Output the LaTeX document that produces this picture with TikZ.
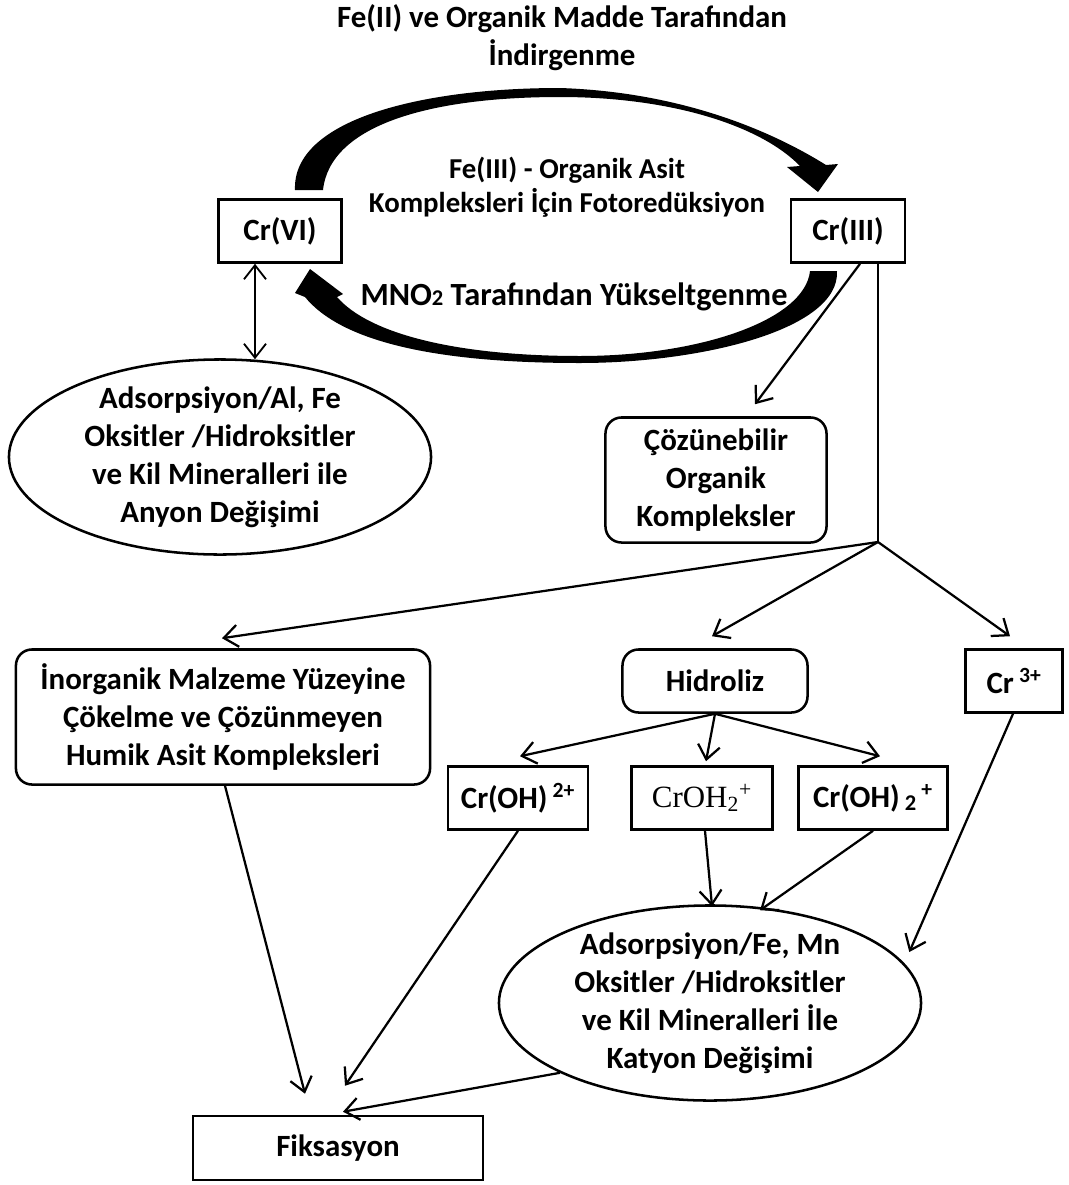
\documentclass[tikz,border=0pt]{standalone}
\usepackage{fontspec}
\setmainfont{Carlito}
\newfontfamily\timesfont{Liberation Serif}
\usetikzlibrary{shapes.geometric, arrows.meta, calc}

\begin{document}
\begin{tikzpicture}[x=0.025cm, y=-0.025cm,
        every node/.style={font=\bfseries\fontsize{22}{27}\selectfont},
        >={Straight Barb[length=3.5mm, width=5.5mm]},
        box/.style={draw, line width=1.8pt, align=center, minimum height=1.575cm},
        rbox/.style={box, rounded corners=0.4cm},
        oval/.style={draw, ellipse, line width=1.8pt, minimum width=10.55cm, minimum height=4.875cm},
        link/.style={->, line width=1.6pt}]
        \useasboundingbox (0, 0) rectangle (1068, 1185);

        \node[align=center] (title) at (562, 38) {Fe(II) ve Organik Madde Tarafından\\İndirgenme};
        \node[align=center, font=\bfseries\fontsize{20.5}{24}\selectfont] (photo) at (567, 187) {Fe(III) - Organik Asit\\Kompleksleri İçin Fotoredüksiyon};
        \node[font=\bfseries\fontsize{23}{27}\selectfont] (mno) at (574, 297) {MNO{\fontsize{16}{16}\selectfont 2} Tarafından Yükseltgenme};

        \node[box, minimum width=3.075cm] (crVI) at (280, 231) {Cr(VI)};
        \node[box, minimum width=2.85cm] (crIII) at (848, 231) {Cr(III)};

        \fill (295,190) .. controls (292,120) and (420,88) .. (560,88)
            .. controls (680,92) and (770,130) .. (826,165)
            -- (838,164) -- (818,192) -- (787,167) -- (800,166)
            .. controls (760,125) and (670,97) .. (560,97)
            .. controls (430,97) and (330,125) .. (323,190) -- cycle;
        \fill (837,271) .. controls (840,330) and (700,363) .. (580,363)
            .. controls (430,363) and (340,340) .. (305,297)
            -- (295,293) -- (310,269) -- (343,294) -- (337,297)
            .. controls (370,335) and (460,356) .. (580,356)
            .. controls (700,356) and (805,320) .. (810,271) -- cycle;

        \node[oval] (adsleft) at (220, 457) {};
        \node[align=center] (adslefttext) at (adsleft) {Adsorpsiyon/Al, Fe\\Oksitler /Hidroksitler\\ve Kil Mineralleri ile\\Anyon Değişimi};
        \node[rbox, minimum width=5.525cm, minimum height=3.125cm] (cozun) at (716, 480) {Çözünebilir\\Organik\\Kompleksler};
        \coordinate (branch) at (878, 542);

        \node[rbox, minimum width=10.35cm, minimum height=3.375cm] (inorg) at (223, 717) {İnorganik Malzeme Yüzeyine\\Çökelme ve Çözünmeyen\\Humik Asit Kompleksleri};
        \node[rbox, minimum width=4.625cm] (hidroliz) at (715, 681) {Hidroliz};
        \node[box, minimum width=2.425cm] (cr3) at (1014, 681) {Cr\,\textsuperscript{3+}};

        \node[box, minimum width=3.5cm] (crOHa) at (518, 798) {Cr(OH)\,\textsuperscript{2+}};
        \node[box, minimum width=3.525cm, font=\timesfont\fontsize{22}{27}\selectfont] (crOHb) at (702, 798) {CrOH\textsubscript{2}\textsuperscript{+}};
        \node[box, minimum width=3.725cm] (crOHc) at (873, 798) {Cr(OH)\,\raisebox{-0.2ex}{\fontsize{16}{16}\selectfont 2}\,\textsuperscript{+}};

        \node[oval] (adsright) at (710, 1003) {};
        \node[align=center] (adsrighttext) at (adsright) {Adsorpsiyon/Fe, Mn\\Oksitler /Hidroksitler\\ve Kil Mineralleri İle\\Katyon Değişimi};
        \node[box, minimum width=7.25cm, minimum height=1.6cm] (fiks) at (338, 1148) {Fiksasyon};

        \draw[link, <->, line width=1.3pt] ($(crVI.south)+(-25,0)$) -- ($(adsleft.north)+(35,1)$);
        \draw[link] ($(crIII.south)+(12,0)$) -- ($(cozun.north)+(39,-12)$);
        \draw[line width=1.6pt] ($(crIII.south)+(30,0)$) -- (branch);
        \draw[link] (branch) -- ($(inorg.north)+(-1,-10)$);
        \draw[link] (branch) -- ($(hidroliz.north)+(-3,-12)$);
        \draw[link] (branch) -- ($(cr3.north)+(-4,-12)$);

        \draw[link] (hidroliz.south) -- ($(crOHa.north)+(2,-9)$);
        \draw[link] (hidroliz.south) -- ($(crOHb.north)+(4,-4)$);
        \draw[link] (hidroliz.south) -- ($(crOHc.north)+(7,-9)$);

        \draw[link] ($(crOHb.south)+(3,0)$) -- ($(adsright.north)+(2,2)$);
        \draw[link] (crOHc.south) -- ($(adsright.north)+(50,6)$);
        \draw[link] ($(cr3.south)+(-1,0)$) -- ($(adsright.east)+(-13,-51)$);

        \draw[link] (crOHa.south) -- ($(fiks.north)+(7,-29)$);
        \draw[link] ($(inorg.south)+(2,0)$) -- ($(fiks.north)+(-33,-21)$);
        \draw[link] ($(adsright.south)+(-150,-29)$) -- ($(fiks.north)+(5,-3)$);
    \end{tikzpicture}
\end{document}
